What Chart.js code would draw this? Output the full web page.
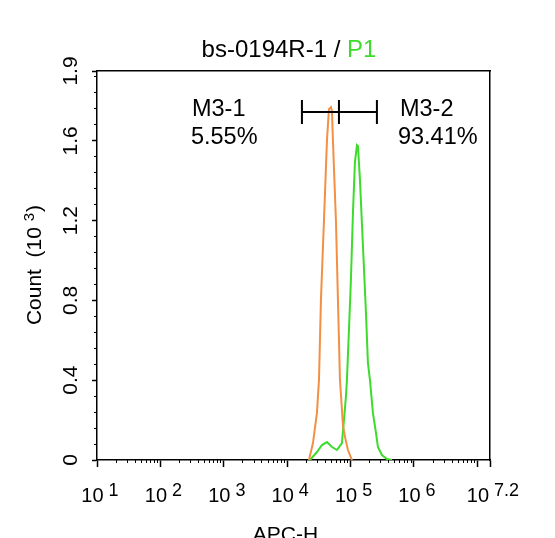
<!DOCTYPE html>
<html>
<head>
<meta charset="utf-8">
<title>bs-0194R-1 / P1</title>
<script src="https://cdn.jsdelivr.net/npm/chart.js@4.4.1/dist/chart.umd.min.js"></script>
<style>
  html, body { margin: 0; padding: 0; background: #fff; }
</style>
</head>
<body>
<canvas id="histo" width="555" height="538"></canvas>
<script>
// x = log10(APC-H), y = count in thousands
const isotypeLog   = [4.344, 4.407, 4.470, 4.502, 4.533, 4.580, 4.628, 4.659, 4.691, 4.707, 4.722, 4.770, 4.801, 4.833, 4.880, 4.912, 4.959, 5.022];
const isotypeCount = [0, 0.085, 0.236, 0.402, 0.804, 1.196, 1.603, 1.759, 1.769, 1.749, 1.603, 1.196, 0.804, 0.402, 0.176, 0.116, 0.05, 0];

const sampleLog   = [4.360, 4.470, 4.549, 4.628, 4.707, 4.785, 4.864, 4.896, 4.927, 4.943, 4.975, 5.006, 5.038, 5.069, 5.101, 5.117, 5.148, 5.196, 5.243, 5.274, 5.306, 5.353, 5.401, 5.432, 5.495, 5.574, 5.653];
const sampleCount = [0, 0.04, 0.075, 0.09, 0.065, 0.05, 0.085, 0.201, 0.317, 0.402, 0.653, 0.905, 1.241, 1.492, 1.578, 1.573, 1.407, 1.070, 0.739, 0.487, 0.402, 0.236, 0.136, 0.065, 0.025, 0.005, 0];

const xMajor = [1, 2, 3, 4, 5, 6, 7, 7.2];
const xExp   = ['1', '2', '3', '4', '5', '6', '', '7.2'];
const yMajor = [0, 0.4, 0.8, 1.2, 1.6, 1.95];
const yText  = ['0', '0.4', '0.8', '1.2', '1.6', '1.9'];

const gateEdges = [4.233, 4.817, 5.416];
const gateLevel = 1.745;
const gateNames = ['M3-1', 'M3-2'];
const gatePcts  = ['5.55%', '93.41%'];

const FONT = '"Liberation Sans", Arial, Helvetica, sans-serif';
const ORANGE = '#f39044';
const GREEN = '#3ddc2c';

// minor tick spots: 2..9 inside each decade, 0.08 steps on counts
const xMinor = [];
for (let d = 1; d < 7.2; d++) {
  for (let k = 2; k <= 9; k++) {
    const v = d + Math.log10(k);
    if (v < 7.2) xMinor.push(v);
  }
}
const yMinor = [];
for (let i = 1; i * 0.08 < 1.95; i++) yMinor.push(+(i * 0.08).toFixed(2));

function pts(xs, ys) {
  return xs.map((v, i) => ({ x: v, y: ys[i] }));
}

function setTicks(list) {
  return function (scale) { scale.ticks = list.map(v => ({ value: v })); };
}

// writes "10" with a raised exponent, centred on cx
function tenTo(ctx, cx, base, exp) {
  ctx.font = '20px ' + FONT;
  const w1 = ctx.measureText('10').width;
  ctx.font = '18px ' + FONT;
  const w2 = ctx.measureText(exp).width;
  const gap = 5;
  let left = cx - (w1 + gap + w2) / 2;
  ctx.textAlign = 'left';
  ctx.font = '20px ' + FONT;
  ctx.fillText('10', left, base);
  ctx.font = '18px ' + FONT;
  ctx.fillText(exp, left + w1 + gap, base - 6);
}

const decor = {
  id: 'decor',
  afterDraw(chart) {
    const { ctx, chartArea } = chart;
    const x = chart.scales.x, y = chart.scales.y;
    ctx.save();
    ctx.fillStyle = '#000';
    ctx.textBaseline = 'alphabetic';

    // x tick labels
    xMajor.forEach((v, i) => {
      if (xExp[i]) tenTo(ctx, x.getPixelForValue(v) + 3, 502, xExp[i]);
    });

    // y tick labels, turned
    ctx.font = '21px ' + FONT;
    yMajor.forEach((v, i) => {
      ctx.save();
      ctx.translate(77, y.getPixelForValue(v));
      ctx.rotate(-Math.PI / 2);
      ctx.textAlign = 'center';
      ctx.fillText(yText[i], 0, 0);
      ctx.restore();
    });

    // y title: Count  (10 3)
    ctx.save();
    ctx.translate(41, (chartArea.top + chartArea.bottom) / 2);
    ctx.rotate(-Math.PI / 2);
    ctx.font = '21px ' + FONT;
    const a = 'Count  (10 ';
    const wa = ctx.measureText(a).width;
    const wc = ctx.measureText(')').width;
    ctx.font = '15px ' + FONT;
    const wb = ctx.measureText('3').width;
    let s = -(wa + wb + wc) / 2;
    ctx.textAlign = 'left';
    ctx.font = '21px ' + FONT;
    ctx.fillText(a, s, 0);
    ctx.font = '15px ' + FONT;
    ctx.fillText('3', s + wa, -7);
    ctx.font = '21px ' + FONT;
    ctx.fillText(')', s + wa + wb + 1, 0);
    ctx.restore();

    // x title
    ctx.font = '21px ' + FONT;
    ctx.textAlign = 'center';
    ctx.fillText('APC-H', (chartArea.left + chartArea.right) / 2 - 8, 541);

    // chart title, two colours
    ctx.font = '24px ' + FONT;
    const t1 = 'bs-0194R-1 / ';
    const w1 = ctx.measureText(t1).width;
    const w2 = ctx.measureText('P1').width;
    const tl = 289 - (w1 + w2) / 2;
    ctx.textAlign = 'left';
    ctx.fillText(t1, tl, 57);
    ctx.fillStyle = GREEN;
    ctx.fillText('P1', tl + w1, 57);

    // marker gate
    ctx.strokeStyle = '#000';
    ctx.lineWidth = 2;
    const gy = y.getPixelForValue(gateLevel);
    const gx = gateEdges.map(v => x.getPixelForValue(v));
    ctx.beginPath();
    ctx.moveTo(gx[0], gy);
    ctx.lineTo(gx[2], gy);
    gx.forEach(px => { ctx.moveTo(px, gy - 12); ctx.lineTo(px, gy + 12); });
    ctx.stroke();

    // gate captions
    ctx.fillStyle = '#000';
    ctx.font = '23.5px ' + FONT;
    ctx.textAlign = 'left';
    ctx.fillText(gateNames[0], gx[0] - 110, gy + 4);
    ctx.fillText(gatePcts[0], gx[0] - 111, gy + 32);
    ctx.fillText(gateNames[1], gx[2] + 23, gy + 4);
    ctx.fillText(gatePcts[1], gx[2] + 21, gy + 32);
    ctx.restore();
  }
};

const axisLine = { color: '#000', width: 1.5 };

new Chart(document.getElementById('histo'), {
  type: 'line',
  data: {
    datasets: [
      { data: pts(isotypeLog, isotypeCount), borderColor: ORANGE, borderWidth: 2, pointRadius: 0, tension: 0, fill: false },
      { data: pts(sampleLog, sampleCount), borderColor: GREEN, borderWidth: 2, pointRadius: 0, tension: 0, fill: false }
    ]
  },
  options: {
    responsive: false,
    animation: false,
    devicePixelRatio: 1,
    layout: { padding: { left: 92, right: 65, top: 71, bottom: 71 } },
    plugins: { legend: { display: false }, tooltip: { enabled: false } },
    scales: {
      x: {
        type: 'linear', position: 'bottom', min: 1, max: 7.2,
        afterBuildTicks: setTicks(xMajor),
        ticks: { display: false },
        grid: { drawOnChartArea: false, tickLength: 7, tickWidth: 1.5, tickColor: '#000' },
        border: axisLine
      },
      xMinor: {
        type: 'linear', axis: 'x', position: { y: 0 }, min: 1, max: 7.2,
        afterBuildTicks: setTicks(xMinor),
        ticks: { display: false },
        grid: { drawOnChartArea: false, tickLength: 3, tickWidth: 1, tickColor: '#000' },
        border: { display: false }
      },
      xTop: {
        type: 'linear', axis: 'x', position: 'top', min: 1, max: 7.2,
        ticks: { display: false }, grid: { display: false, drawTicks: false }, border: axisLine
      },
      y: {
        type: 'linear', position: 'left', min: 0, max: 1.95,
        afterBuildTicks: setTicks(yMajor),
        ticks: { display: false },
        grid: { drawOnChartArea: false, tickLength: 5, tickWidth: 1.5, tickColor: '#000' },
        border: axisLine
      },
      yMinor: {
        type: 'linear', axis: 'y', position: { x: 1 }, min: 0, max: 1.95,
        afterBuildTicks: setTicks(yMinor),
        ticks: { display: false },
        grid: { drawOnChartArea: false, tickLength: 3, tickWidth: 1, tickColor: '#000' },
        border: { display: false }
      },
      yRight: {
        type: 'linear', axis: 'y', position: 'right', min: 0, max: 1.95,
        ticks: { display: false }, grid: { display: false, drawTicks: false }, border: axisLine
      }
    }
  },
  plugins: [decor]
});
</script>
</body>
</html>
